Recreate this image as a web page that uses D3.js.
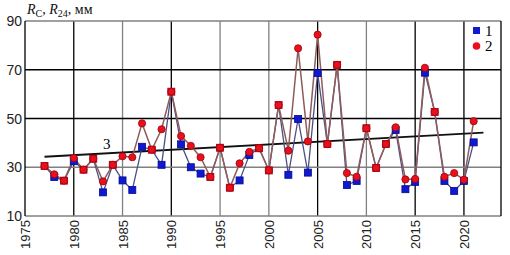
<!DOCTYPE html>
<html>
<head>
<meta charset="utf-8">
<script src="https://cdn.jsdelivr.net/npm/d3@7"></script>
<style>
  body { margin: 0; background: #fff; }
  svg { display: block; }
</style>
</head>
<body>
<div id="chart"></div>
<script>
// data
const years = d3.range(1977, 2022);
const rC = [30.5, 26, 24.5, 32.5, 29, 33.5, 19.7, 31, 24.6, 20.7, 38.4, 37.2, 31,
  61, 39.4, 30, 27.4, 26, 38, 21.6, 24.6, 35, 37.8, 28.7, 55.5, 26.9, 49.8, 27.8,
  68.7, 39.5, 72, 22.7, 24.4, 46, 29.7, 39.5, 45.3, 21, 24, 68.8, 52.7, 24.4, 20.3,
  24.4, 40.2];
const r24 = [30.5, 27.1, 24.5, 33.8, 29, 33.5, 24.2, 31, 34.5, 34.1, 48, 37.2, 45.6,
  61, 42.8, 38.8, 34.1, 26, 38, 21.6, 31.6, 36.3, 37.8, 28.7, 55.5, 36.8, 78.8, 40.6,
  84.4, 39.5, 72, 27.6, 26.1, 46, 29.7, 39.5, 46.4, 25, 25.2, 70.8, 52.7, 26.1, 27.6,
  24.9, 48.9];
const trendYears = [1977, 2022];
const trendValues = [34.3, 44.2];
const xTicks = d3.range(1975, 2021, 5);
const yTicks = [10, 30, 50, 70, 90];

const W = 510, H = 255;
const plot = { left: 25, right: 501, top: 21, bottom: 216 };

const x = d3.scaleLinear().domain([1975, 2023.8]).range([plot.left, plot.right]);
const y = d3.scaleLinear().domain([10, 90]).range([plot.bottom, plot.top]);

const svg = d3.select("#chart").append("svg")
  .attr("width", W)
  .attr("height", H);

// grid lines (some dark, some gray, like the source)
const darkYears = [1980, 1990, 2005, 2015, 2020];
svg.append("g").selectAll("line")
  .data(xTicks.filter(d => d > 1975))
  .join("line")
    .attr("x1", d => x(d)).attr("x2", d => x(d))
    .attr("y1", plot.top).attr("y2", plot.bottom)
    .attr("stroke", d => darkYears.includes(d) ? "#000" : "#808080")
    .attr("stroke-width", 1.3);

svg.append("g").selectAll("line")
  .data([30, 50, 70])
  .join("line")
    .attr("x1", plot.left).attr("x2", plot.right)
    .attr("y1", d => y(d)).attr("y2", d => y(d))
    .attr("stroke", d => d === 30 ? "#808080" : "#000")
    .attr("stroke-width", 1.3);

// frame
svg.append("line").attr("x1", plot.left).attr("x2", plot.right).attr("y1", plot.top).attr("y2", plot.top)
  .attr("stroke", "#808080").attr("stroke-width", 1.3);
svg.append("line").attr("x1", plot.left).attr("x2", plot.right).attr("y1", plot.bottom).attr("y2", plot.bottom)
  .attr("stroke", "#808080").attr("stroke-width", 1.3);
svg.append("line").attr("x1", plot.left).attr("x2", plot.left).attr("y1", plot.top).attr("y2", plot.bottom)
  .attr("stroke", "#000").attr("stroke-width", 1.3);
svg.append("line").attr("x1", plot.right).attr("x2", plot.right).attr("y1", plot.top).attr("y2", plot.bottom)
  .attr("stroke", "#000").attr("stroke-width", 1.3);

// y tick labels
svg.append("g").selectAll("text")
  .data(yTicks)
  .join("text")
    .attr("x", plot.left - 3)
    .attr("y", d => y(d) + 5)
    .attr("text-anchor", "end")
    .style("font-family", "Liberation Sans, Arial, sans-serif")
    .style("font-size", "14px")
    .attr("fill", "#222")
    .text(d => d);

// x tick labels, rotated
svg.append("g").selectAll("text")
  .data(xTicks)
  .join("text")
    .attr("transform", d => `translate(${x(d) + 5},${plot.bottom + 4}) rotate(-90)`)
    .attr("text-anchor", "end")
    .style("font-family", "Liberation Sans, Arial, sans-serif")
    .style("font-size", "13px")
    .attr("fill", "#222")
    .text(d => d);

// y axis title
const title = svg.append("text")
  .attr("x", plot.left + 2)
  .attr("y", 14)
  .style("font-family", "Liberation Serif, Times New Roman, serif")
  .style("font-size", "14px")
  .attr("fill", "#111");
title.append("tspan").style("font-style", "italic").text("R");
title.append("tspan").attr("dy", 3).style("font-size", "10px").text("C");
title.append("tspan").attr("dy", -3).text(", ");
title.append("tspan").style("font-style", "italic").text("R");
title.append("tspan").attr("dy", 3).style("font-size", "10px").text("24");
title.append("tspan").attr("dy", -3).text(", мм");

// trend line
const trend = trendYears.map((d, i) => ({ year: d, v: trendValues[i] }));
svg.append("path")
  .datum(trend)
  .attr("fill", "none")
  .attr("stroke", "#111")
  .attr("stroke-width", 1.8)
  .attr("d", d3.line().x(d => x(d.year)).y(d => y(d.v)));
svg.append("text")
  .attr("x", 103).attr("y", 149)
  .style("font-family", "Liberation Serif, Times New Roman, serif")
  .style("font-size", "15px")
  .text("3");

const data = years.map((d, i) => ({ year: d, a: rC[i], b: r24[i] }));

// series lines
svg.append("path")
  .datum(data)
  .attr("fill", "none")
  .attr("stroke", "#4c4f86")
  .attr("stroke-width", 1.3)
  .attr("d", d3.line().x(d => x(d.year)).y(d => y(d.a)));

svg.append("path")
  .datum(data)
  .attr("fill", "none")
  .attr("stroke", "#8f5c5c")
  .attr("stroke-width", 1.5)
  .attr("d", d3.line().x(d => x(d.year)).y(d => y(d.b)));

// squares for series 1 (red where both series coincide)
svg.append("g").selectAll("rect")
  .data(data)
  .join("rect")
    .attr("x", d => x(d.year) - 3.5)
    .attr("y", d => y(d.a) - 3.5)
    .attr("width", 7)
    .attr("height", 7)
    .attr("fill", d => d.a === d.b ? "#e8101a" : "#1018d0")
    .attr("stroke", d => d.a === d.b ? "#a00010" : "#000a90")
    .attr("stroke-width", 0.8);

// circles for series 2
svg.append("g").selectAll("circle")
  .data(data)
  .join("circle")
    .attr("cx", d => x(d.year))
    .attr("cy", d => y(d.b))
    .attr("r", 3.6)
    .attr("fill", "#e8101a")
    .attr("stroke", "#a00010")
    .attr("stroke-width", 0.8);

// legend
const lg = svg.append("g");
lg.append("rect").attr("x", 473).attr("y", 27).attr("width", 7).attr("height", 7)
  .attr("fill", "#1018d0");
lg.append("circle").attr("cx", 476.5).attr("cy", 46).attr("r", 3.8)
  .attr("fill", "#e8101a");
lg.selectAll("text")
  .data(["1", "2"])
  .join("text")
    .attr("x", 485)
    .attr("y", (d, i) => 36 + i * 15)
    .style("font-family", "Liberation Serif, Times New Roman, serif")
    .style("font-size", "15px")
    .text(d => d);
</script>
</body>
</html>
